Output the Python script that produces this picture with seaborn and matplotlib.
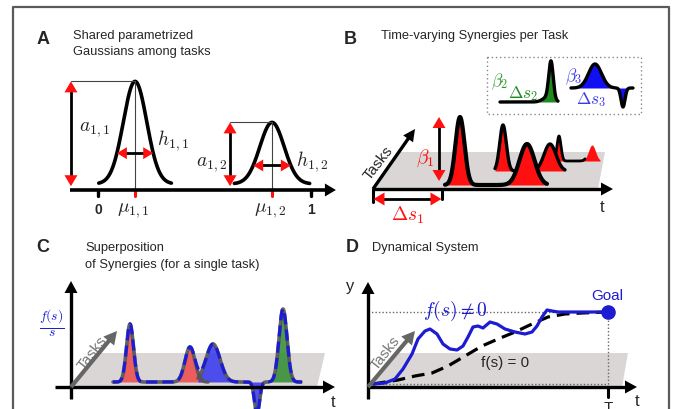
import numpy as np
import matplotlib
matplotlib.use('Agg')
import matplotlib.pyplot as plt
import seaborn as sns
from matplotlib.patches import Polygon

sns.set_theme(style='white')
plt.rcParams['font.family'] = ['Liberation Sans', 'DejaVu Sans']
plt.rcParams['mathtext.fontset'] = 'cm'

W, H = 673, 410

# ---------------- data ----------------
# Panel A: two shared parametrized Gaussians on a 0..1 time axis
A_mu = [0.174, 0.817]
A_amp = [0.95, 0.57]
A_h = [0.055, 0.057]
A_base = 0.056
A_arrow_x = [-0.127, 0.620]
A_mu_labels = [r'$\mu_{1,1}$', r'$\mu_{1,2}$']
A_a_labels = [r'$a_{1,1}$', r'$a_{1,2}$']
A_h_labels = [r'$h_{1,1}$', r'$h_{1,2}$']

# Panel B: synergy 1 for three tasks (narrow peak + wide bump)
B_base = [0.04, 0.18, 0.28]
B_start = [0.72, 1.22, 1.82]
B_end = [1.74, 1.92, 2.12]
B_fill_end = [1.74, 1.92, 2.27]
B_peak_c = [0.87, 1.30, 1.86]
B_peak_a = [0.68, 0.46, 0.25]
B_peak_w = [0.045, 0.033, 0.02]
B_bump_c = [1.54, 1.77, 2.19]
B_bump_a = [0.41, 0.27, 0.16]
B_bump_w = [0.075, 0.06, 0.035]
B_ds1 = 0.69
B_beta1 = [0.08, 0.72]
B_beta1_x = 0.66

# Panel B inset: synergy 2 (green) and synergy 3 (blue)
INS_green_range = [1.27, 1.85]
INS_green_base = 0.87
INS_green_peaks = [(1.78, 0.37, 0.022), (1.75, 0.05, 0.05)]
INS_blue_range = [1.98, 2.60]
INS_blue_base = 1.01
INS_blue_peaks = [(2.22, 0.24, 0.065), (2.50, -0.19, 0.02)]

# Panel C: superposition of synergies for a single task
C_base = 0.05
C_red = [(0.59, 0.58, 0.035), (1.19, 0.35, 0.05)]
C_red_range = [0.42, 1.37]
C_blue = [(1.42, 0.38, 0.07), (1.86, -0.32, 0.025)]
C_blue_range = [1.27, 1.97]
C_green = [(2.12, 0.73, 0.04)]
C_green_range = [2.00, 2.30]
C_sum_range = [0.42, 2.34]

# Panel D: dynamical system trajectories
D_blue_t = [0.05, 0.17, 0.27, 0.35, 0.44, 0.50, 0.57, 0.62, 0.69, 0.75, 0.82, 0.89,
            0.95, 1.00, 1.05, 1.10, 1.15, 1.22, 1.29, 1.37, 1.47, 1.57, 1.64, 1.69,
            1.74, 1.79, 1.84, 1.90, 2.04, 2.24, 2.40]
D_blue_y = [0.03, 0.04, 0.08, 0.18, 0.33, 0.48, 0.56, 0.58, 0.53, 0.43, 0.38, 0.37,
            0.41, 0.50, 0.60, 0.61, 0.59, 0.65, 0.63, 0.58, 0.55, 0.53, 0.55, 0.61,
            0.70, 0.77, 0.76, 0.75, 0.75, 0.75, 0.75]
D_dash_t = [0.05, 0.30, 0.47, 0.64, 0.80, 0.97, 1.14, 1.30, 1.47, 1.64, 1.80, 1.97, 2.14, 2.40]
D_dash_y = [0.03, 0.07, 0.11, 0.14, 0.21, 0.31, 0.41, 0.48, 0.55, 0.63, 0.70, 0.73, 0.74, 0.75]
D_goal = (2.40, 0.75)

RED = '#ff1010'
GRAYFILL = '#dad6d6'
BLUE = '#1c1cd2'

# ---------------- figure ----------------
fig = plt.figure(figsize=(W / 100, H / 100), dpi=100)
fig.patch.set_facecolor('white')


def panel(ox, oy, sx, sy, box):
    l, t, r, b = box
    ax = fig.add_axes([l / W, 1 - b / H, (r - l) / W, (b - t) / H])
    ax.set_xlim((l - ox) / sx, (r - ox) / sx)
    ax.set_ylim((oy - b) / sy, (oy - t) / sy)
    ax.axis('off')
    ax.patch.set_alpha(0)
    return ax


axA = panel(98, 191, 213, 108, (20, 60, 345, 228))
axB = panel(373, 190, 100, 100, (340, 50, 670, 228))
axC = panel(71, 388, 100, 100, (20, 240, 345, 410))
axD = panel(368, 388, 100, 100, (340, 240, 670, 410))

ov = fig.add_axes([0, 0, 1, 1], zorder=5)
ov.set_xlim(0, W)
ov.set_ylim(H, 0)
ov.axis('off')
ov.patch.set_alpha(0)


def to_px(ax, x, y):
    return ov.transData.inverted().transform(ax.transData.transform((x, y)))


def head(tip, d, color, L, Wd):
    n = np.array([-d[1], d[0]])
    ov.add_patch(Polygon([tip, tip - d * L + n * Wd / 2, tip - d * L - n * Wd / 2],
                         closed=True, facecolor=color, edgecolor='none', zorder=6))


def arrow(ax, p0, p1, shaft='black', hc='black', lw=2.2, L=11, Wd=12, both=False):
    a = np.array(to_px(ax, *p0))
    b = np.array(to_px(ax, *p1))
    d = (b - a) / np.hypot(*(b - a))
    s0 = a + d * L * 0.6 if both else a
    s1 = b - d * L * 0.6
    ov.plot([s0[0], s1[0]], [s0[1], s1[1]], color=shaft, lw=lw, solid_capstyle='butt', zorder=5)
    head(b, d, hc, L, Wd)
    if both:
        head(a, -d, hc, L, Wd)


def gauss(x, c, a, w):
    return a * np.exp(-0.5 * ((x - c) / w) ** 2)


def line(ax, x, y, **kw):
    sns.lineplot(x=x, y=y, ax=ax, estimator=None, sort=False, legend=False, **kw)


# border
ov.plot([13, 13, 669, 669], [412, 8, 8, 412], color='#5a5a5a', lw=1.6, zorder=1)

# titles
for letter, lx, ly in [('A', 43, 40), ('B', 350, 39), ('C', 43, 248), ('D', 352, 248)]:
    ov.text(lx, ly, letter, fontsize=13, fontweight='bold', ha='center', va='center')
TFS = 9.3
ov.text(73, 36, 'Shared parametrized', fontsize=TFS, va='center')
ov.text(73, 52, 'Gaussians among tasks', fontsize=TFS, va='center')
ov.text(381, 36, 'Time-varying Synergies per Task', fontsize=TFS, va='center')
ov.text(85, 248, 'Superposition', fontsize=TFS, va='center')
ov.text(85, 265, 'of Synergies (for a single task)', fontsize=TFS, va='center')
ov.text(372, 248, 'Dynamical System', fontsize=TFS, va='center')

# ---------------- Panel A ----------------
for i in range(2):
    mu, amp, w = A_mu[i], A_amp[i], A_h[i]
    x = np.linspace(mu - 3.1 * w, mu + 3.1 * w, 200)
    line(axA, x, A_base + gauss(x, mu, amp, w), color='black', linewidth=2.6)
    peak = A_base + amp
    axA.plot([mu, mu], [0, peak], color='#444444', lw=0.8)
    axA.plot([A_arrow_x[i], mu], [peak, peak], color='#444444', lw=0.8)
    arrow(axA, (A_arrow_x[i], 0.035), (A_arrow_x[i], peak), hc=RED, lw=2.0, L=11, Wd=13, both=True)
    hy = A_base + 0.3 * amp
    arrow(axA, (mu - 1.55 * w, hy), (mu + 1.55 * w, hy), hc=RED, lw=2.0, L=10, Wd=12, both=True)
    axA.plot([mu, mu], [0, -0.06], color=RED, lw=2.2)
    axA.text(mu - 0.01, -0.18, A_mu_labels[i], fontsize=14, ha='center', va='center')
axA.text(-0.015, 0.57, A_a_labels[0], fontsize=14, ha='center', va='center')
axA.text(0.354, 0.47, A_h_labels[0], fontsize=14, ha='center', va='center')
axA.text(0.535, 0.24, A_a_labels[1], fontsize=14, ha='center', va='center')
axA.text(1.005, 0.27, A_h_labels[1], fontsize=14, ha='center', va='center')
for tk in [0, 1]:
    axA.plot([tk, tk], [0, -0.06], color='black', lw=2.4)
    axA.text(tk, -0.18, str(tk), fontsize=10, fontweight='bold', ha='center', va='center')
arrow(axA, (-0.13, 0), (1.117, 0), lw=2.6, L=11, Wd=13)

# ---------------- Panel B ----------------
axB.add_patch(Polygon([(0, 0), (2.25, 0), (2.32, 0.37), (0.26, 0.37)], closed=True,
                      facecolor=GRAYFILL, edgecolor='none', zorder=0))
for i in [2, 1, 0]:
    xf = np.linspace(B_start[i], B_fill_end[i], 400)
    yf = B_base[i] + gauss(xf, B_peak_c[i], B_peak_a[i], B_peak_w[i]) + gauss(xf, B_bump_c[i], B_bump_a[i], B_bump_w[i])
    axB.fill_between(xf, B_base[i], yf, color=RED, lw=0, zorder=2 + 3 * (2 - i))
    xl = np.linspace(B_start[i], B_end[i], 400)
    yl = B_base[i] + gauss(xl, B_peak_c[i], B_peak_a[i], B_peak_w[i]) + gauss(xl, B_bump_c[i], B_bump_a[i], B_bump_w[i])
    line(axB, xl, yl, color='black', linewidth=[3.0, 2.4, 2.0][i], zorder=3 + 3 * (2 - i))
axB.plot([0, 0], [0, -0.13], color='black', lw=2.2)
axB.plot([B_ds1, B_ds1], [0, -0.10], color='black', lw=2.2)
arrow(axB, (0, 0), (2.40, 0), lw=2.4, L=12, Wd=13)
arrow(axB, (0, 0), (0.42, 0.60), lw=2.4, L=12, Wd=12)
arrow(axB, (0.005, -0.10), (B_ds1 - 0.005, -0.10), hc=RED, lw=2.0, L=11, Wd=13, both=True)
arrow(axB, (B_beta1_x, B_beta1[0]), (B_beta1_x, B_beta1[1]), hc=RED, lw=2.0, L=11, Wd=13, both=True)
axB.text(0.05, 0.27, 'Tasks', fontsize=11, rotation=52, ha='center', va='center')
axB.text(0.52, 0.32, r'$\beta_1$', fontsize=14, color=RED, ha='center', va='center')
axB.text(0.345, -0.25, r'$\Delta s_1$', fontsize=14, color=RED, ha='center', va='center')
axB.text(2.29, -0.18, 't', fontsize=12, ha='center', va='center')

# inset
axB.plot([1.14, 2.68, 2.68, 1.14, 1.14], [1.32, 1.32, 0.75, 0.75, 1.32], color='#888888',
         lw=1.0, linestyle=(0, (1, 2)))
xg = np.linspace(INS_green_range[0], INS_green_range[1], 300)
yg = INS_green_base + sum(gauss(xg, c, a, w) for c, a, w in INS_green_peaks)
axB.fill_between(xg, INS_green_base, yg, color='#1e8a1e', lw=0, where=xg > 1.66)
line(axB, xg, yg, color='black', linewidth=2.4)
xb = np.linspace(INS_blue_range[0], INS_blue_range[1], 300)
yb = INS_blue_base + sum(gauss(xb, c, a, w) for c, a, w in INS_blue_peaks)
axB.fill_between(xb, INS_blue_base, yb, color='#1010f0', lw=0, where=(xb > 2.05) & (xb < 2.56))
line(axB, xb, yb, color='black', linewidth=2.4)
axB.text(1.27, 1.08, r'$\beta_2$', fontsize=12.5, color='#2a9a2a', ha='center', va='center')
axB.text(1.50, 0.965, r'$\Delta s_2$', fontsize=12.5, color='#1f8a1f', ha='center', va='center')
axB.text(2.01, 1.13, r'$\beta_3$', fontsize=12.5, color='#3a3aee', ha='center', va='center')
axB.text(2.18, 0.90, r'$\Delta s_3$', fontsize=12.5, color='#3a3aee', ha='center', va='center')

# ---------------- Panel C ----------------
axC.add_patch(Polygon([(0, 0), (2.46, 0), (2.54, 0.34), (0.28, 0.34)], closed=True,
                      facecolor=GRAYFILL, edgecolor='none', zorder=0))
comps = [(C_red, C_red_range, '#f04848'), (C_blue, C_blue_range, '#3434f0'), (C_green, C_green_range, '#2e8b2e')]
for pk, rng, col in comps:
    x = np.linspace(rng[0], rng[1], 400)
    y = C_base + sum(gauss(x, c, a, w) for c, a, w in pk)
    axC.fill_between(x, C_base, y, color=col, alpha=0.85, lw=0, zorder=2)
    line(axC, x, y, color='#555555', linewidth=2.6, alpha=0.9, zorder=3)
xs = np.linspace(C_sum_range[0], C_sum_range[1], 800)
ys = C_base + sum(gauss(xs, c, a, w) for c, a, w in C_red + C_blue + C_green)
line(axC, xs, ys, color=BLUE, linewidth=2.3, linestyle=(0, (3.5, 1.6)), zorder=4)
arrow(axC, (-0.16, 0), (2.64, 0), lw=2.4, L=12, Wd=13)
arrow(axC, (0, -0.12), (0, 1.06), lw=2.4, L=12, Wd=13)
arrow(axC, (0, 0), (0.46, 0.56), shaft='#666666', hc='#666666', lw=3.0, L=13, Wd=14)
axC.text(0.21, 0.35, 'Tasks', fontsize=11, rotation=52, color='#777777', ha='center', va='center')
axC.text(-0.19, 0.65, r'$\frac{f(s)}{s}$', fontsize=14, color=BLUE, ha='center', va='center')
axC.text(2.62, -0.15, 't', fontsize=12, ha='center', va='center')

# ---------------- Panel D ----------------
axD.add_patch(Polygon([(0, 0), (2.54, 0), (2.60, 0.34), (0.285, 0.34)], closed=True,
                      facecolor=GRAYFILL, edgecolor='none', zorder=0))
gx, gy = D_goal
axD.plot([0, gx], [gy, gy], color='#666666', lw=1.0, linestyle=(0, (1, 1.5)))
axD.plot([gx, gx], [0.03, gy], color='#666666', lw=1.0, linestyle=(0, (1, 1.5)))
axD.plot([0, gx], [0.03, 0.03], color='#666666', lw=1.0, linestyle=(0, (1, 1.5)))
line(axD, D_dash_t, D_dash_y, color='black', linewidth=2.3, linestyle=(0, (4, 2.2)), zorder=3)
line(axD, D_blue_t, D_blue_y, color=BLUE, linewidth=2.3, zorder=4)
axD.plot([gx], [gy], marker='o', markersize=9.5, color=BLUE, zorder=5)
arrow(axD, (0, 0), (2.69, 0), lw=2.4, L=12, Wd=13)
arrow(axD, (0, -0.12), (0, 1.05), lw=2.4, L=12, Wd=13)
arrow(axD, (0, 0), (0.47, 0.56), shaft='#666666', hc='#666666', lw=3.0, L=13, Wd=14)
axD.plot([gx, gx], [0, -0.10], color='black', lw=2.2)
axD.text(0.17, 0.35, 'Tasks', fontsize=11, rotation=52, color='#777777', ha='center', va='center')
axD.text(-0.18, 1.01, 'y', fontsize=12, ha='center', va='center')
axD.text(2.69, -0.14, 't', fontsize=12, ha='center', va='center')
axD.text(gx, -0.20, 'T', fontsize=11, ha='center', va='center')
axD.text(2.39, 0.92, 'Goal', fontsize=11, color=BLUE, ha='center', va='center')
axD.text(0.87, 0.77, r'$f(s) \neq 0$', fontsize=14, color=BLUE, ha='center', va='center')
axD.text(1.37, 0.25, 'f(s) = 0', fontsize=11, ha='center', va='center')

fig.savefig('out.png', dpi=100, facecolor='white')
